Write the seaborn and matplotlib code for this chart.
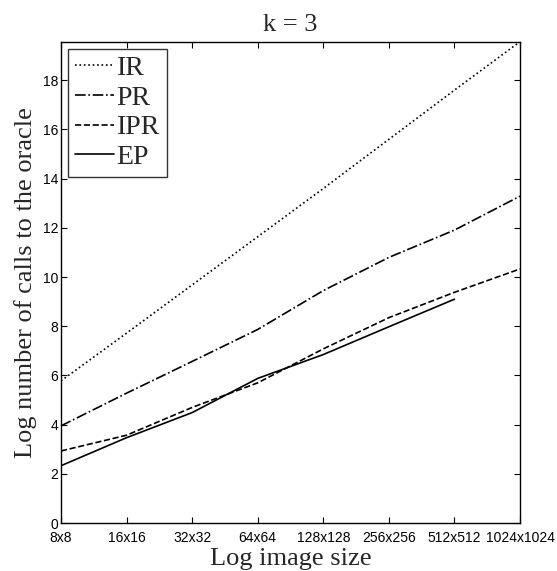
import numpy as np
import pandas as pd
import matplotlib
matplotlib.use("Agg")
import matplotlib.pyplot as plt
import seaborn as sns

# values (log scale, calls to the oracle)
sizes = ["8x8", "16x16", "32x32", "64x64", "128x128", "256x256", "512x512", "1024x1024"]
ir = [5.78, 7.72, 9.68, 11.64, 13.60, 15.60, 17.60, 19.57]
pr = [3.95, 5.28, 6.57, 7.87, 9.45, 10.80, 11.91, 13.29]
ipr = [2.93, 3.57, 4.70, 5.70, 7.08, 8.35, 9.38, 10.33]
ep = [2.33, 3.47, 4.49, 5.88, 6.85, 7.98, 9.10]

sns.set_theme(style="ticks")
plt.rcParams["font.family"] = ["Liberation Sans", "DejaVu Sans"]

fig = plt.figure(figsize=(5.57, 5.71), dpi=100)
ax = fig.add_axes([0.1095, 0.084, 0.8241, 0.843])

serif = ["Liberation Serif", "DejaVu Serif"]

series = [("IR", ir, ":"), ("PR", pr, "-."), ("IPR", ipr, "--"), ("EP", ep, "-")]
for name, vals, ls in series:
    df = pd.DataFrame({"x": np.arange(len(vals)), "y": vals})
    sns.lineplot(data=df, x="x", y="y", ax=ax, color="black", linestyle=ls,
                 linewidth=1.2, label=name)

ax.set_xlim(0, len(sizes) - 1)
ax.set_ylim(0, max(ir))
ax.set_xticks(range(len(sizes)))
ax.set_xticklabels(sizes)
ax.set_yticks(range(0, 19, 2))
ax.tick_params(direction="in", length=4, width=0.8, top=True, right=True,
               labelsize=10, colors="black", pad=2)
ax.tick_params(axis="x", pad=5.5)
for s in ax.spines.values():
    s.set_linewidth(1.0)
    s.set_color("black")

ax.set_title("k = 3", fontsize=19, family=serif, pad=8)
ax.set_xlabel("Log image size", fontsize=19, family=serif, labelpad=2.5)
ax.set_ylabel("Log number of calls to the oracle", fontsize=19, family=serif, labelpad=4)

leg = ax.legend(loc="upper left", prop={"family": serif, "size": 20},
                frameon=True, fancybox=False, edgecolor="black",
                handlelength=1.4, handletextpad=0.1, labelspacing=0.15,
                borderpad=0.25, borderaxespad=0.25)
leg.get_frame().set_linewidth(1.0)

fig.savefig("out.png", dpi=100)
